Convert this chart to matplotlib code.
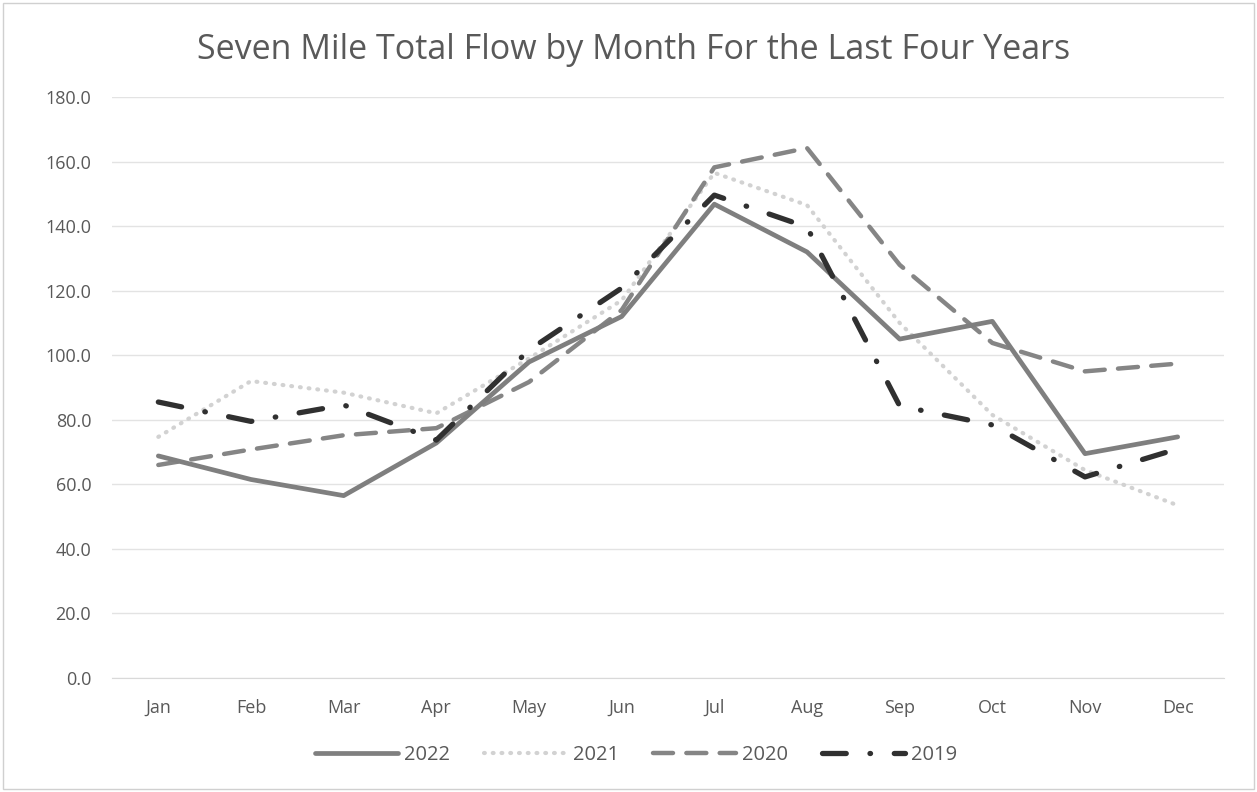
import matplotlib
matplotlib.use("Agg")
import matplotlib.pyplot as plt
from matplotlib.patches import Rectangle

plt.rcParams['font.family'] = ['Open Sans', 'DejaVu Sans']

months = ["Jan", "Feb", "Mar", "Apr", "May", "Jun", "Jul", "Aug", "Sep", "Oct", "Nov", "Dec"]
flow_2022 = [68.8, 61.5, 56.5, 72.8, 97.9, 112.0, 146.8, 132.0, 105.0, 110.5, 69.5, 74.7]
flow_2021 = [74.7, 92.0, 88.4, 82.0, 99.0, 117.0, 156.5, 146.5, 110.0, 81.5, 64.4, 53.5]
flow_2020 = [66.0, 70.8, 75.2, 77.4, 91.7, 114.0, 158.2, 164.2, 128.0, 103.8, 95.0, 97.4]
flow_2019 = [85.5, 79.5, 84.6, 73.7, 101.6, 120.8, 149.6, 139.7, 84.3, 78.4, 62.3, 71.0]
years = ["2022", "2021", "2020", "2019"]
title = "Seven Mile Total Flow by Month For the Last Four Years"
yticks = [0, 20, 40, 60, 80, 100, 120, 140, 160, 180]

fig = plt.figure(figsize=(12.57, 7.92), dpi=100)
W, H = 1257, 792
ax = fig.add_axes([112 / W, 1 - 678 / H, (1224 - 112) / W, (678 - 97) / H])

x = list(range(len(months)))
ax.plot(x, flow_2022, color="#7f7f7f", lw=3.4, solid_capstyle="round", label=years[0], zorder=4)
ax.plot(x, flow_2021, color="#d2d2d2", lw=3.0, linestyle=(0, (0.2, 1.9)), dash_capstyle="round", label=years[1], zorder=2)
ax.plot(x, flow_2020, color="#858585", lw=3.2, linestyle=(0, (4.5, 3.0)), dash_capstyle="round", label=years[2], zorder=3)
ax.plot(x, flow_2019, color="#303030", lw=3.8, linestyle=(0, (4.5, 4.5, 0.1, 4.5)), dash_capstyle="round", label=years[3], zorder=5)

ax.set_xlim(-0.5, 11.5)
ax.set_ylim(0, 180)
ax.set_yticks(yticks)
ax.set_yticklabels([f"{v:.1f}" for v in yticks])
ax.set_xticks(x)
ax.set_xticklabels(months)
ax.grid(axis="y", color="#e3e3e3", lw=1.0)
ax.set_axisbelow(True)
for s in ["top", "right", "left"]:
    ax.spines[s].set_visible(False)
ax.spines["bottom"].set_color("#d9d9d9")
ax.tick_params(axis="both", length=0, labelsize=13, colors="#595959")
ax.tick_params(axis="x", pad=15)
ax.tick_params(axis="y", pad=15)

fig.text(634 / W, 1 - 50 / H, title, ha="center", va="center", fontsize=24.5, color="#595959")

leg = fig.legend(loc="center", bbox_to_anchor=(636 / W, 1 - 755 / H), ncol=4, frameon=False,
                 fontsize=14.5, handlelength=4.1, columnspacing=1.7, handletextpad=0.3)
for t in leg.get_texts():
    t.set_color("#595959")

fig.patches.append(Rectangle((3 / W, 3 / H), 1 - 6 / W, 1 - 6 / H, transform=fig.transFigure,
                             fill=False, edgecolor="#d0d0d0", lw=1.0))

fig.savefig("out.png", dpi=100, facecolor="white")
